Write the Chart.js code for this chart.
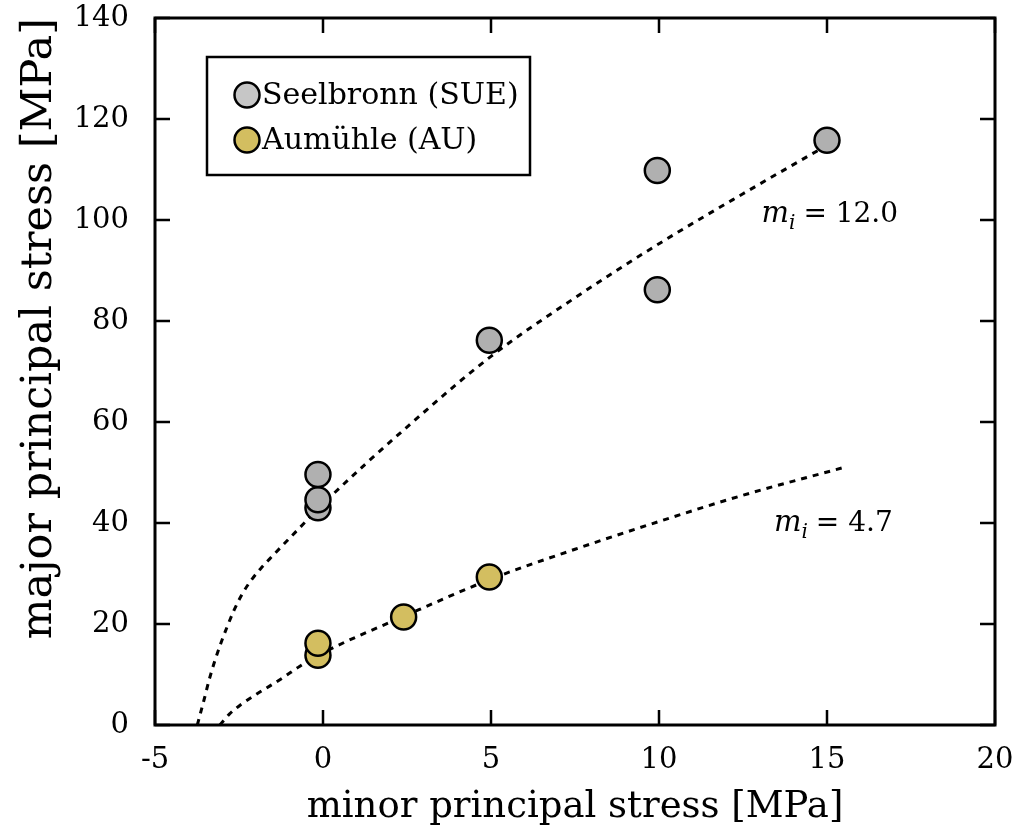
<!DOCTYPE html>
<html>
<head>
<meta charset="utf-8">
<script src="https://cdn.jsdelivr.net/npm/chart.js@4.4.1/dist/chart.umd.min.js"></script>
<style>
  html, body { margin: 0; padding: 0; background: #fff; }
  #wrap { width: 1018px; height: 838px; }
</style>
</head>
<body>
<div id="wrap"><canvas id="chart"></canvas></div>
<script>
// measured points (minor / major principal stress, MPa)
const sueX = [-0.15, -0.15, -0.15, 4.95, 9.95, 9.95, 15.0];
const sueY = [43.0, 44.6, 49.6, 76.2, 86.2, 109.8, 115.8];
const auX = [-0.15, -0.15, 2.4, 4.95];
const auY = [13.8, 16.2, 21.4, 29.3];

// dashed fit curves
const fit12X = [-3.74, -3.54, -3.39, -3.21, -3.04, -2.85, -2.65, -2.4, -2.1, -1.85, -1.6, -0.6, 0, 2.5, 5, 7.5, 10, 12.5, 15.0];
const fit12Y = [0, 5.0, 8.9, 12.9, 16.2, 19.5, 22.7, 26.0, 29.0, 31.0, 32.8, 39.7, 43.8, 59.0, 73.0, 84.6, 95.3, 105.2, 114.8];
const fit47X = [-3.07, -2.78, -2.43, -2.03, -1.59, -1.14, -0.7, 0, 2.4, 5, 7.5, 10, 12.5, 15.5];
const fit47Y = [0, 2.2, 4.1, 5.9, 7.7, 9.6, 11.6, 14.3, 21.5, 28.9, 34.8, 40.3, 45.5, 51.0];

const xTicks = [-5, 0, 5, 10, 15, 20];
const yTicks = [0, 20, 40, 60, 80, 100, 120, 140];

const legendLabels = ['Seelbronn (SUE)', 'Aumühle (AU)'];
const annoText = ['= 12.0', '= 4.7'];
const annoX = [13.05, 13.42];
const annoY = [99.6, 38.4];

const grey = '#b0b0b0';
const gold = '#d3be60';
const serif = '"DejaVu Serif", serif';

function toPts(xs, ys) {
  return xs.map((x, i) => ({ x, y: ys[i] }));
}

const frameTicks = {
  id: 'frameTicks',
  afterDraw(chart) {
    const { ctx, chartArea: a, scales } = chart;
    const len = 15;
    ctx.save();
    ctx.strokeStyle = '#000';
    ctx.lineWidth = 2.5;
    ctx.beginPath();
    xTicks.forEach(v => {
      const px = scales.x.getPixelForValue(v);
      ctx.moveTo(px, a.bottom); ctx.lineTo(px, a.bottom - len);
      ctx.moveTo(px, a.top); ctx.lineTo(px, a.top + len);
    });
    yTicks.forEach(v => {
      const py = scales.y.getPixelForValue(v);
      ctx.moveTo(a.left, py); ctx.lineTo(a.left + len, py);
      ctx.moveTo(a.right, py); ctx.lineTo(a.right - len, py);
    });
    ctx.stroke();
    ctx.lineWidth = 3;
    ctx.strokeRect(a.left, a.top, a.right - a.left, a.bottom - a.top);
    ctx.restore();
  }
};

const boxLegend = {
  id: 'boxLegend',
  afterDraw(chart) {
    const { ctx, chartArea: a } = chart;
    const left = a.left + 52, top = a.top + 39, w = 323, h = 118;
    const fills = ['#c6c6c6', gold];
    ctx.save();
    ctx.fillStyle = '#fff';
    ctx.fillRect(left, top, w, h);
    ctx.strokeStyle = '#000';
    ctx.lineWidth = 2.5;
    ctx.strokeRect(left, top, w, h);
    ctx.font = '30px ' + serif;
    ctx.textBaseline = 'middle';
    legendLabels.forEach((lab, i) => {
      const cy = top + 38 + i * 45;
      ctx.beginPath();
      ctx.arc(left + 40, cy, 12.5, 0, Math.PI * 2);
      ctx.fillStyle = fills[i];
      ctx.fill();
      ctx.lineWidth = 2.5;
      ctx.stroke();
      ctx.fillStyle = '#000';
      ctx.fillText(lab, left + 55, cy + 1);
    });
    ctx.restore();
  }
};

const miLabels = {
  id: 'miLabels',
  afterDraw(chart) {
    const { ctx, scales } = chart;
    ctx.save();
    ctx.fillStyle = '#000';
    ctx.textBaseline = 'alphabetic';
    annoText.forEach((t, i) => {
      let x = scales.x.getPixelForValue(annoX[i]);
      const y = scales.y.getPixelForValue(annoY[i]);
      ctx.font = 'italic 29px ' + serif;
      ctx.fillText('m', x, y);
      x += ctx.measureText('m').width;
      ctx.font = 'italic 20px ' + serif;
      ctx.fillText('i', x, y + 7);
      x += ctx.measureText('i').width + 8;
      ctx.font = '28px ' + serif;
      ctx.fillText(t, x, y);
    });
    ctx.restore();
  }
};

const ctx = document.getElementById('chart').getContext('2d');
new Chart(ctx, {
  type: 'scatter',
  data: {
    datasets: [
      {
        label: legendLabels[1],
        data: toPts(auX, auY),
        backgroundColor: gold,
        borderColor: '#000',
        borderWidth: 2.5,
        pointRadius: 12.5,
        order: 0
      },
      {
        label: legendLabels[0],
        data: toPts(sueX, sueY),
        backgroundColor: grey,
        borderColor: '#000',
        borderWidth: 2.5,
        pointRadius: 12.5,
        order: 0
      },
      {
        label: 'mi = 12.0',
        type: 'line',
        data: toPts(fit12X, fit12Y),
        borderColor: '#000',
        borderWidth: 3,
        borderDash: [6, 6],
        pointRadius: 0,
        cubicInterpolationMode: 'monotone',
        fill: false,
        order: 1
      },
      {
        label: 'mi = 4.7',
        type: 'line',
        data: toPts(fit47X, fit47Y),
        borderColor: '#000',
        borderWidth: 3,
        borderDash: [6, 6],
        pointRadius: 0,
        cubicInterpolationMode: 'monotone',
        fill: false,
        order: 1
      }
    ]
  },
  options: {
    responsive: true,
    maintainAspectRatio: false,
    animation: false,
    layout: { padding: { top: 18, right: 23, left: 0, bottom: 0 } },
    scales: {
      x: {
        type: 'linear',
        min: -5,
        max: 20,
        afterFit(scale) {
          scale.height = 113;
          scale.paddingLeft = 0;
          scale.paddingRight = 0;
        },
        afterBuildTicks(scale) { scale.ticks = xTicks.map(v => ({ value: v })); },
        grid: { display: false, drawTicks: false },
        border: { display: false },
        ticks: { color: '#000', padding: 18, font: { family: serif, size: 29 } },
        title: {
          display: true,
          text: 'minor principal stress [MPa]',
          color: '#000',
          font: { family: serif, size: 37 },
          padding: { top: 0, bottom: 8 }
        }
      },
      y: {
        min: 0,
        max: 140,
        afterFit(scale) {
          scale.width = 155;
          scale.paddingTop = 0;
          scale.paddingBottom = 0;
        },
        afterBuildTicks(scale) { scale.ticks = yTicks.map(v => ({ value: v })); },
        grid: { display: false, drawTicks: false },
        border: { display: false },
        ticks: { color: '#000', padding: 26, font: { family: serif, size: 29 } },
        title: {
          display: true,
          align: 'end',
          text: 'major principal stress [MPa]',
          color: '#000',
          font: { family: serif, size: 43 },
          padding: { top: 14, bottom: 0 }
        }
      }
    },
    plugins: {
      legend: { display: false },
      tooltip: { enabled: false }
    }
  },
  plugins: [frameTicks, boxLegend, miLabels]
});
</script>
</body>
</html>
